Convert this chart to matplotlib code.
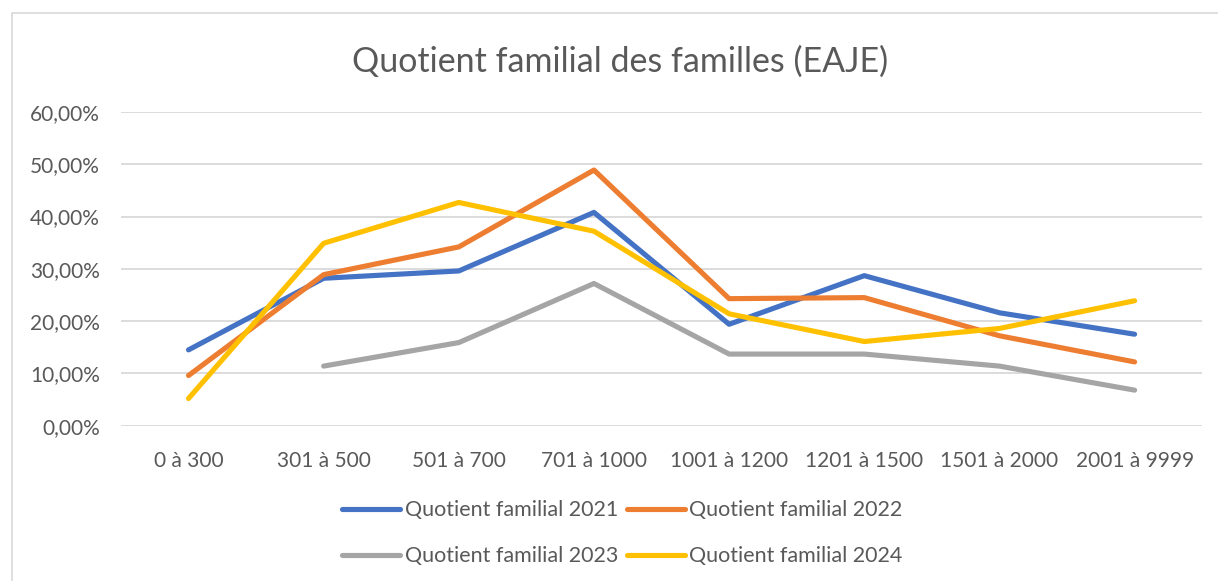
import numpy as np
import matplotlib
matplotlib.use("Agg")
from matplotlib import pyplot as plt
from matplotlib.ticker import FuncFormatter
from matplotlib.patches import Rectangle

plt.rcParams['font.family'] = ['Lato', 'DejaVu Sans']

categories = ["0 à 300", "301 à 500", "501 à 700", "701 à 1000",
              "1001 à 1200", "1201 à 1500", "1501 à 2000", "2001 à 9999"]

qf_2021 = [14.5, 28.2, 29.6, 40.8, 19.4, 28.7, 21.6, 17.5]
qf_2022 = [9.6, 28.9, 34.2, 48.9, 24.3, 24.5, 17.2, 12.2]
qf_2023 = [np.nan, 11.4, 15.9, 27.2, 13.7, 13.7, 11.4, 6.8]
qf_2024 = [5.2, 34.9, 42.7, 37.2, 21.4, 16.1, 18.6, 23.9]

series = [
    ("Quotient familial 2021", qf_2021, "#4472C4"),
    ("Quotient familial 2022", qf_2022, "#ED7D31"),
    ("Quotient familial 2023", qf_2023, "#A5A5A5"),
    ("Quotient familial 2024", qf_2024, "#FFC000"),
]

text_col = "#595959"

fig = plt.figure(figsize=(12.18, 5.81), dpi=100)
ax = fig.add_axes([0.0993, 0.2673, 0.8877, 0.5399])

x = np.arange(len(categories))
lines = []
for label, vals, col in series:
    ln, = ax.plot(x, np.array(vals) / 100, color=col, lw=3.7, label=label,
                  solid_capstyle='round', solid_joinstyle='round')
    lines.append(ln)

ax.set_xlim(-0.5, len(categories) - 0.5)
ax.set_ylim(0, 0.6)
ax.set_yticks(np.arange(0, 0.61, 0.1))
ax.yaxis.set_major_formatter(FuncFormatter(lambda v, p: f"{v*100:.2f}%".replace(".", ",")))
ax.set_xticks(x)
ax.set_xticklabels(categories)
ax.tick_params(axis='both', length=0, labelsize=15, labelcolor=text_col)
ax.tick_params(axis='x', pad=18)
ax.tick_params(axis='y', pad=15)
ax.grid(axis='y', color="#D9D9D9", lw=1.3)
ax.set_axisbelow(True)
for s in ax.spines.values():
    s.set_visible(False)

fig.text(0.509, 0.893, "Quotient familial des familles (EAJE)", ha='center', va='center',
         fontsize=24.5, color=text_col)

# legend filled row by row like the original
order = [0, 2, 1, 3]
fig.legend([lines[i] for i in order], [series[i][0] for i in order],
           loc='center', bbox_to_anchor=(0.511, 0.082), ncol=2, frameon=False,
           fontsize=15.5, handlelength=2.7, handletextpad=0.2, columnspacing=0.4,
           labelspacing=1.2, labelcolor=text_col)

# chart border
fig.patches.append(Rectangle((12 / 1218, -0.05), 1.2, 1 - 13 / 581 + 0.05,
                             transform=fig.transFigure, fill=False,
                             edgecolor="#D9D9D9", lw=1.2))

fig.savefig("out.png", dpi=100)
